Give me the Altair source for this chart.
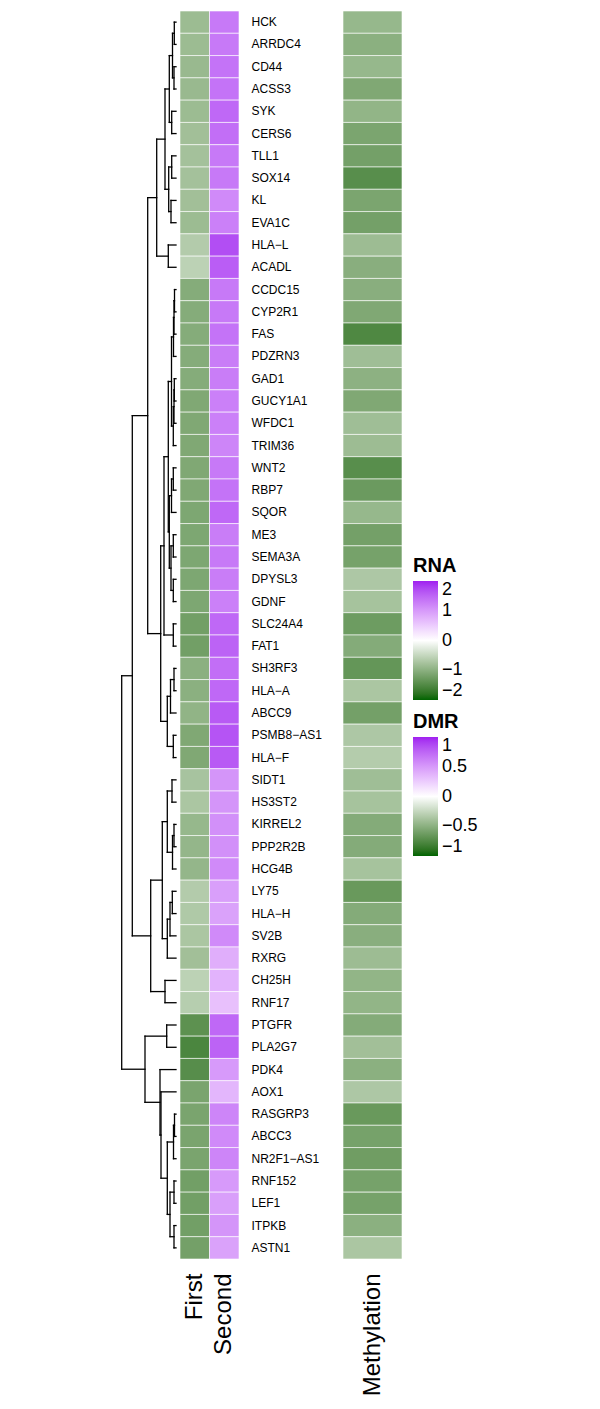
import altair as alt
import pandas as pd

M = "\u2212"
genes = ["HCK", "ARRDC4", "CD44", "ACSS3", "SYK", "CERS6", "TLL1", "SOX14", "KL", "EVA1C",
         "HLA" + M + "L", "ACADL", "CCDC15", "CYP2R1", "FAS", "PDZRN3", "GAD1", "GUCY1A1", "WFDC1",
         "TRIM36", "WNT2", "RBP7", "SQOR", "ME3", "SEMA3A", "DPYSL3", "GDNF", "SLC24A4", "FAT1",
         "SH3RF3", "HLA" + M + "A", "ABCC9", "PSMB8" + M + "AS1", "HLA" + M + "F", "SIDT1", "HS3ST2",
         "KIRREL2", "PPP2R2B", "HCG4B", "LY75", "HLA" + M + "H", "SV2B", "RXRG", "CH25H", "RNF17",
         "PTGFR", "PLA2G7", "PDK4", "AOX1", "RASGRP3", "ABCC3", "NR2F1" + M + "AS1", "RNF152",
         "LEF1", "ITPKB", "ASTN1"]

rna_first = [-0.85, -0.85, -0.88, -0.88, -0.85, -0.8, -0.78, -0.78, -0.8, -0.85,
             -0.65, -0.57, -1.05, -1.05, -1.05, -1.05, -1.05, -1.1, -1.1,
             -1.1, -1.1, -1.1, -1.12, -1.12, -1.12, -1.12, -1.12, -1.22, -1.22,
             -1.0, -1.0, -0.95, -1.1, -1.1, -0.75, -0.72,
             -0.9, -0.92, -0.92, -0.65, -0.68, -0.72, -0.8, -0.57, -0.62,
             -1.4, -1.55, -1.45, -1.15, -1.15, -1.15, -1.15, -1.22,
             -1.22, -1.22, -1.2]

rna_second = [1.32, 1.32, 1.37, 1.37, 1.47, 1.42, 1.32, 1.32, 1.15, 1.25,
              1.7, 1.57, 1.32, 1.32, 1.37, 1.28, 1.28, 1.25, 1.25,
              1.2, 1.32, 1.37, 1.47, 1.28, 1.32, 1.28, 1.25, 1.47, 1.52,
              1.42, 1.47, 1.6, 1.65, 1.6, 1.05, 1.05,
              1.1, 1.1, 1.15, 0.95, 0.92, 1.15, 0.8, 0.75, 0.62,
              1.47, 1.52, 1.0, 0.72, 1.2, 1.15, 1.2, 1.0,
              0.95, 1.05, 0.92]

dmr = [-0.45, -0.5, -0.45, -0.55, -0.47, -0.57, -0.6, -0.72, -0.57, -0.6,
       -0.42, -0.51, -0.51, -0.55, -0.76, -0.41, -0.49, -0.55, -0.41,
       -0.42, -0.72, -0.64, -0.45, -0.6, -0.59, -0.35, -0.38, -0.63, -0.53,
       -0.67, -0.36, -0.6, -0.35, -0.32, -0.41, -0.38,
       -0.53, -0.53, -0.38, -0.65, -0.53, -0.51, -0.42, -0.47, -0.47,
       -0.53, -0.4, -0.5, -0.35, -0.65, -0.59, -0.62, -0.59,
       -0.59, -0.5, -0.36]

# hierarchical clustering merges: node, left child, right child, merge height
merge_node = ["A0", "A1", "A2", "A3", "A4", "A5", "A6", "A7", "A8", "A9", "A10",
              "B0", "B1", "B2", "B3", "B4", "B5", "B6",
              "C0", "C1", "C2", "C3", "C4", "C5", "D", "SF", "E",
              "F0", "F1", "F2", "F3", "G", "H",
              "I0", "I1", "I2", "I3", "I4", "I5", "I6", "I7", "I8", "I9", "J",
              "K0", "K1", "K2", "K3", "K4", "K5", "K6", "K7", "K8", "K9", "R"]
merge_left = ["HCK", "CD44", "A0", "SYK", "A2", "TLL1", "KL", "A5", "A4", "HLA" + M + "L", "A8",
              "CCDC15", "B0", "B1", "GAD1", "B3", "B4", "B2",
              "WNT2", "C0", "ME3", "DPYSL3", "C2", "C1", "B6", "SLC24A4", "D",
              "SH3RF3", "F0", "PSMB8" + M + "AS1", "F1", "E", "A10",
              "SIDT1", "KIRREL2", "I1", "I0", "LY75", "I4", "I5", "I3", "CH25H", "I7", "H",
              "PTGFR", "RASGRP3", "K1", "RNF152", "ITPKB", "K3", "K2", "AOX1", "PDK4", "K0", "J"]
merge_right = ["ARRDC4", "ACSS3", "A1", "CERS6", "A3", "SOX14", "EVA1C", "A6", "A7", "ACADL", "A9",
               "CYP2R1", "FAS", "PDZRN3", "GUCY1A1", "WFDC1", "TRIM36", "B5",
               "RBP7", "SQOR", "SEMA3A", "GDNF", "C3", "C4", "C5", "FAT1", "SF",
               "HLA" + M + "A", "ABCC9", "HLA" + M + "F", "F2", "F3", "G",
               "HS3ST2", "PPP2R2B", "HCG4B", "I2", "HLA" + M + "H", "SV2B", "RXRG", "I6", "RNF17", "I8", "I9",
               "PLA2G7", "ABCC3", "NR2F1" + M + "AS1", "LEF1", "ASTN1", "K4", "K5", "K6", "K7", "K8", "K9"]
merge_height = [1.7, 2.0, 3.5, 4.3, 6.7, 4.3, 5.0, 7.3, 11.0, 7.7, 19.3,
                1.5, 2.0, 2.5, 1.7, 2.0, 2.7, 4.5,
                2.7, 4.5, 2.7, 2.7, 5.0, 6.7, 7.7, 2.7, 12.0,
                2.0, 5.5, 2.7, 8.7, 15.3, 28.3,
                4.0, 2.0, 3.5, 8.7, 3.7, 6.0, 8.7, 13.7, 11.0, 25.3, 43.7,
                9.3, 1.5, 2.5, 2.0, 2.0, 6.0, 8.7, 15.0, 16.0, 31.0, 54.3]

# ---- dendrogram segments derived from the merge table ----
pos = {g: i + 0.5 for i, g in enumerate(genes)}
hgt = {g: 0.0 for g in genes}
segs = []
for n, a, b, h in zip(merge_node, merge_left, merge_right, merge_height):
    ya, yb = pos[a], pos[b]
    segs.append(dict(h=h, h2=h, y=ya, y2=yb))
    segs.append(dict(h=h, h2=hgt[a], y=ya, y2=ya))
    segs.append(dict(h=h, h2=hgt[b], y=yb, y2=yb))
    pos[n] = (ya + yb) / 2
    hgt[n] = h
seg_df = pd.DataFrame(segs)

n_rows = len(genes)
H = 1248

dendro = alt.Chart(seg_df).mark_rule(color="black", strokeWidth=1.3, strokeCap="square").encode(
    x=alt.X("h:Q", scale=alt.Scale(domain=[0, 171], reverse=True, nice=False, zero=False), axis=None),
    x2="h2:Q",
    y=alt.Y("y:Q", scale=alt.Scale(domain=[0, n_rows], reverse=True, nice=False, zero=False), axis=None),
    y2="y2:Q",
).properties(width=171, height=H)

heat_df = pd.DataFrame(
    [dict(gene=g, sample="First", RNA=v) for g, v in zip(genes, rna_first)]
    + [dict(gene=g, sample="Second", RNA=v) for g, v in zip(genes, rna_second)]
)

rna_scale = alt.Scale(domain=[-2, 0, 2], range=["#006400", "#ffffff", "#a020f0"],
                      interpolate="lab", clamp=True)
dmr_scale = alt.Scale(domain=[-1, 0, 1], range=["#006400", "#ffffff", "#a020f0"],
                      interpolate="lab", clamp=True)

band = alt.Scale(paddingInner=0, paddingOuter=0)
x_axis = alt.Axis(title=None, orient="bottom", labelAngle=-90, labelFontSize=24, ticks=False,
                  tickSize=0, domain=False, labelPadding=14, labelColor="black")

heat = alt.Chart(heat_df).mark_rect(stroke="white", strokeWidth=0.6).encode(
    x=alt.X("sample:N", sort=["First", "Second"], scale=band, axis=x_axis),
    y=alt.Y("gene:N", sort=genes, scale=band,
            axis=alt.Axis(title=None, orient="right", labelFontSize=12, ticks=False, tickSize=0,
                          domain=False, labelPadding=12, labelColor="black",
                          minExtent=101, maxExtent=101, labelLimit=200)),
    color=alt.Color("RNA:Q", scale=rna_scale, legend=None),
).properties(width=59, height=H)

meth_df = pd.DataFrame(dict(gene=genes, track="Methylation", DMR=dmr, RNA=dmr))

def leg(title, vals, y):
    return alt.Legend(orient="none", legendX=70, legendY=y, title=title, titleFontSize=20,
                      titleFontWeight="bold", titleColor="black", titlePadding=5,
                      labelFontSize=18, labelColor="black", labelOffset=4,
                      gradientThickness=25, gradientLength=119, gradientStrokeWidth=0,
                      values=vals, format="~g", direction="vertical", labelOverlap=False)

meth_base = alt.Chart(meth_df).encode(
    x=alt.X("track:N", scale=band, axis=x_axis),
    y=alt.Y("gene:N", sort=genes, scale=band, axis=None),
)
meth = meth_base.mark_rect(stroke="white", strokeWidth=0.6).encode(
    color=alt.Color("DMR:Q", scale=dmr_scale, legend=leg("DMR", [-1, -0.5, 0, 0.5, 1], 701))
)
dummy = meth_base.mark_rect(opacity=0).encode(
    color=alt.Color("RNA:Q", scale=rna_scale, legend=leg("RNA", [-2, -1, 0, 1, 2], 545))
)
meth_panel = alt.layer(meth, dummy).resolve_scale(color="independent").properties(width=59, height=H)

chart = alt.hconcat(dendro, heat, meth_panel, spacing=2).resolve_scale(
    x="independent", y="independent", color="independent"
).properties(
    padding={"left": 5, "top": 10, "right": 5, "bottom": 5}
).configure(font="Liberation Sans").configure_view(stroke=None)

chart.save("out.html", embed_options={"renderer": "svg", "actions": False})
